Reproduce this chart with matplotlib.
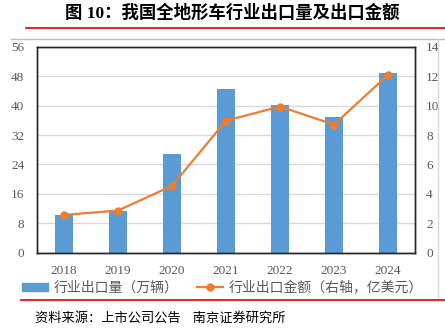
import numpy as np
import matplotlib
matplotlib.use("Agg")
import matplotlib.pyplot as plt
from matplotlib.lines import Line2D
from matplotlib.patches import Patch

plt.rcParams['font.family'] = ['Liberation Serif', 'Noto Sans CJK SC', 'DejaVu Sans']

years = ["2018", "2019", "2020", "2021", "2022", "2023", "2024"]
volume = [10.2, 11.3, 26.9, 44.5, 40.1, 36.8, 48.8]      # 万辆
amount = [2.56, 2.86, 4.54, 8.98, 9.94, 8.71, 12.1]      # 亿美元

bar_color = "#5B9BD5"
line_color = "#ED7D31"
text_gray = "#595959"

fig = plt.figure(figsize=(4.45, 3.33), dpi=100)
ax = fig.add_axes([0.0831, 0.2417, 0.8495, 0.6173])
x = np.arange(len(years))

ax.bar(x, volume, width=0.32, color=bar_color, zorder=2)
ax.set_ylim(0, 56)
ax.set_yticks(np.arange(0, 57, 8))
ax.set_xlim(-0.5, len(years) - 0.5)
ax.set_xticks(x)
ax.set_xticklabels(years)
ax.yaxis.grid(True, color="#d9d9d9", linewidth=1, zorder=0)
ax.set_axisbelow(True)

ax2 = ax.twinx()
ax2.plot(x, amount, color=line_color, linewidth=1.6, marker="o", markersize=5, zorder=3)
ax2.set_ylim(0, 14)
ax2.set_yticks(np.arange(0, 15, 2))

for a in (ax, ax2):
    a.tick_params(length=0, labelsize=9.5, labelcolor=text_gray)
    for s in a.spines.values():
        s.set_color("#262626")
        s.set_linewidth(1)
ax.tick_params(axis="y", pad=9)
ax.tick_params(axis="x", pad=9)
ax2.tick_params(axis="y", pad=8)

# title and decorative lines
fig.text(0.522, 0.962, "图 10：我国全地形车行业出口量及出口金额", ha="center", va="center",
         fontsize=12.5, fontweight="bold", color="#000000")
fig.add_artist(Line2D([26 / 445, 1], [1 - 28.3 / 333] * 2, color="#e60000", linewidth=1.2))
fig.add_artist(Line2D([11 / 445, 1], [1 - 39 / 333] * 2, color="#bfbfbf", linewidth=1))
fig.add_artist(Line2D([437.7 / 445] * 2, [1 - 39 / 333, 1 - 300 / 333], color="#d9d9d9", linewidth=1))
fig.add_artist(Line2D([21 / 445, 1], [1 - 300 / 333] * 2, color="#e60000", linewidth=1.2))

# legend
handles = [Patch(color=bar_color),
           Line2D([0], [0], color=line_color, linewidth=1.6, marker="o", markersize=5)]
labels = ["行业出口量（万辆）", "行业出口金额（右轴，亿美元）"]
leg = fig.legend(handles, labels, loc="center", bbox_to_anchor=(0.5, 1 - 288 / 333), ncol=2,
                 frameon=False, fontsize=10, handlelength=1.9, handleheight=0.55,
                 columnspacing=1.3, handletextpad=0.4,
                 prop={"family": ["Noto Sans CJK SC"], "size": 10})
for t in leg.get_texts():
    t.set_color(text_gray)

fig.text(35 / 445, 1 - 318 / 333, "资料来源：上市公司公告    南京证券研究所", ha="left", va="center",
         fontsize=9.5, style="italic", color="#000000", family=["Noto Sans CJK SC"])

fig.savefig("out.png", dpi=100)
